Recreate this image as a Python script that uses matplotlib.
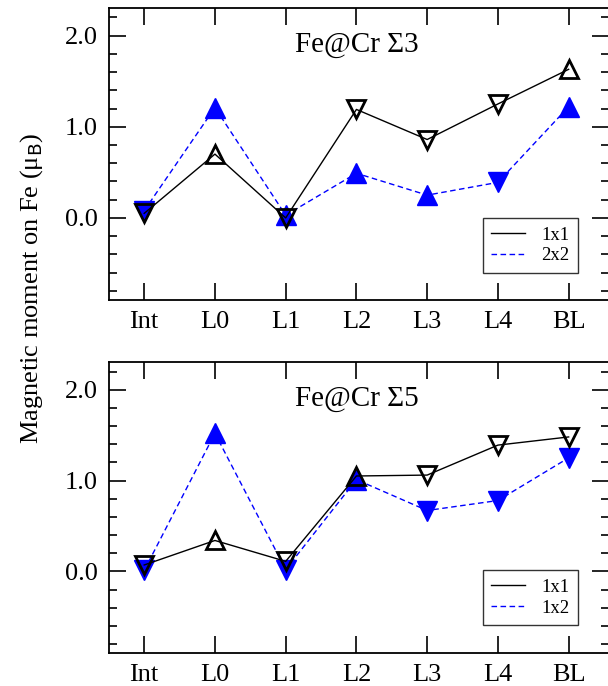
import numpy as np
import matplotlib
matplotlib.use("Agg")
from matplotlib import pyplot as plt
from matplotlib.lines import Line2D
from matplotlib.ticker import MultipleLocator, FormatStrFormatter

plt.rcParams['font.family'] = ['Liberation Serif', 'DejaVu Serif']

sites = ['Int', 'L0', 'L1', 'L2', 'L3', 'L4', 'BL']

# Fe@Cr Sigma3
s3_1x1 = [0.05, 0.70, 0.00, 1.19, 0.86, 1.25, 1.63]
s3_1x1_mk = ['v', '^', 'v', 'v', 'v', 'v', '^']
s3_2x2 = [0.08, 1.21, 0.03, 0.49, 0.25, 0.39, 1.22]
s3_2x2_mk = ['v', '^', '^', '^', '^', 'v', '^']

# Fe@Cr Sigma5
s5_1x1 = [0.07, 0.34, 0.11, 1.05, 1.06, 1.39, 1.48]
s5_1x1_mk = ['v', '^', 'v', '^', 'v', 'v', 'v']
s5_1x2 = [0.01, 1.52, 0.02, 1.01, 0.67, 0.78, 1.25]
s5_1x2_mk = ['v', '^', 'v', '^', 'v', 'v', 'v']


def panel(ax, title, black, black_mk, blue, blue_mk, blue_label, leg_top):
    x = np.arange(len(sites))
    ax.plot(x, blue, color='blue', ls='--', lw=1.0, dashes=(4, 2.5))
    for xi, yi, m in zip(x, blue, blue_mk):
        ax.plot(xi, yi, marker=m, ms=14, color='blue', mec='blue', ls='none')
    ax.plot(x, black, color='black', lw=1.0)
    for xi, yi, m in zip(x, black, black_mk):
        ax.plot(xi, yi, marker=m, ms=13, mfc='none', mec='black', mew=2.0, ls='none')

    ax.set_xlim(-0.5, 6.57)
    ax.set_ylim(-0.9, 2.3)
    ax.set_xticks(x)
    ax.set_xticklabels(sites)
    ax.yaxis.set_major_locator(MultipleLocator(1.0))
    ax.yaxis.set_minor_locator(MultipleLocator(0.2))
    ax.yaxis.set_major_formatter(FormatStrFormatter('%.1f'))
    ax.tick_params(which='both', direction='in', top=True, right=True,
                   labelsize=19, width=1.2, pad=8)
    ax.tick_params(which='major', length=12)
    ax.tick_params(which='minor', length=6)
    for sp in ax.spines.values():
        sp.set_linewidth(1.3)

    ax.text(3.0, 1.9, title, ha='center', va='center', fontsize=21)

    handles = [Line2D([], [], color='black', lw=1.0),
               Line2D([], [], color='blue', ls='--', lw=1.0, dashes=(4, 2.5))]
    leg = ax.legend(handles, ['1x1', blue_label], loc='upper left',
                    bbox_to_anchor=(0.748, leg_top), borderaxespad=0,
                    fontsize=13.5, frameon=True, fancybox=False,
                    edgecolor='black', handlelength=1.8, borderpad=0.45,
                    labelspacing=0.2, handletextpad=0.85)
    leg.get_frame().set_linewidth(1.0)


fig = plt.figure(figsize=(6.08, 6.86), dpi=100)
ax1 = fig.add_axes([0.179, 0.5627, 1.0016 - 0.179, 0.988 - 0.5627])
ax2 = fig.add_axes([0.179, 0.048, 1.0016 - 0.179, 0.4716 - 0.048])

panel(ax1, 'Fe@Cr Σ3', s3_1x1, s3_1x1_mk, s3_2x2, s3_2x2_mk, '2x2', 0.281)
panel(ax2, 'Fe@Cr Σ5', s5_1x1, s5_1x1_mk, s5_1x2, s5_1x2_mk, '1x2', 0.285)

fig.text(0.052, 0.580, 'Magnetic moment on Fe (μ$_\\mathrm{B}$)', rotation=90,
         ha='center', va='center', fontsize=19)

fig.savefig('out.png', dpi=100)
